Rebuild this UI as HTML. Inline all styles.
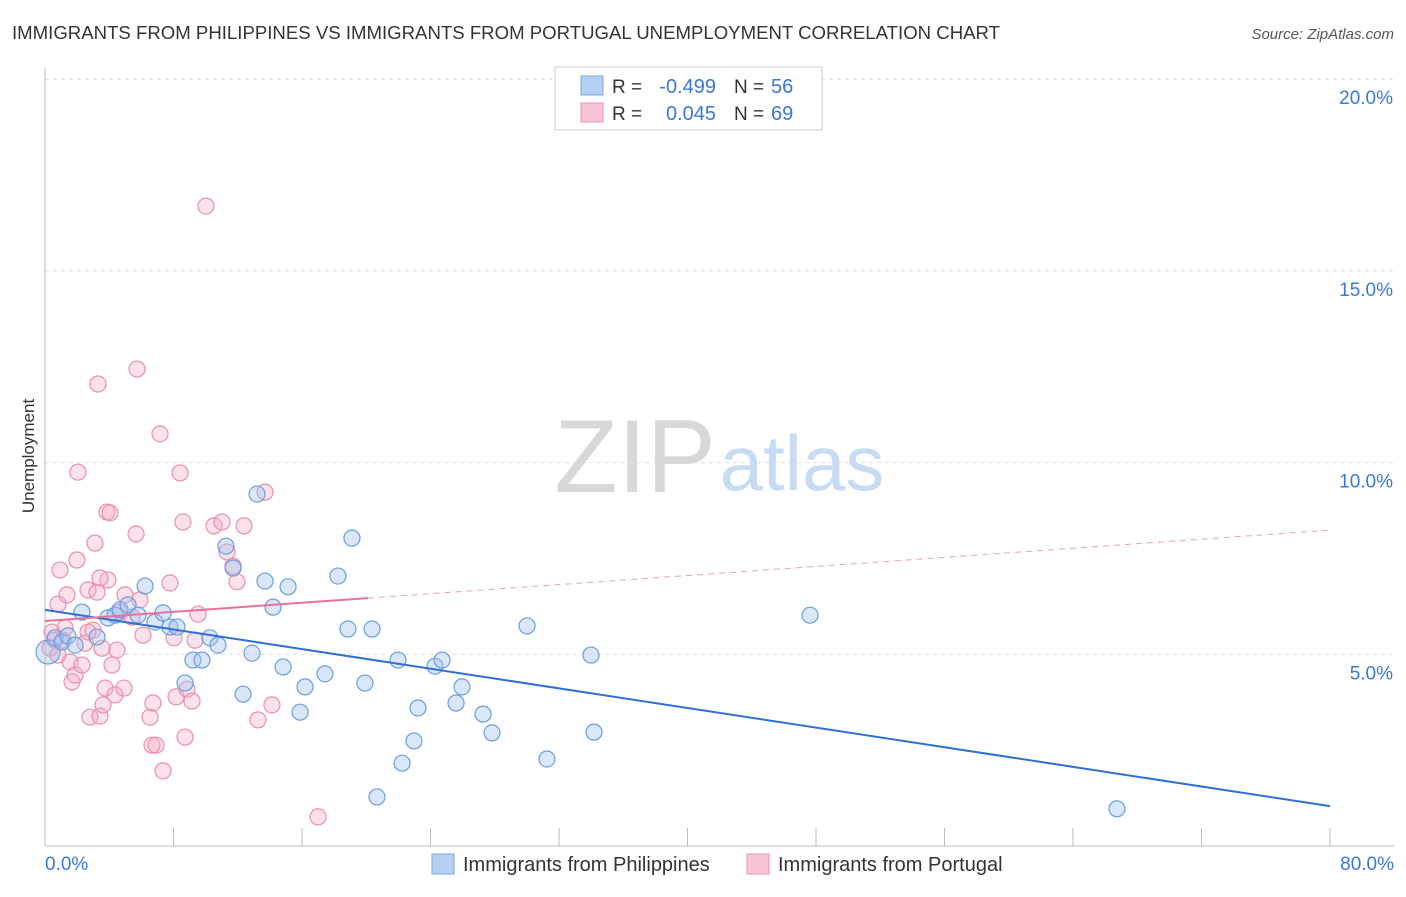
<!DOCTYPE html>
<html><head><meta charset="utf-8"><style>
body{margin:0;background:#fff;font-family:"Liberation Sans",sans-serif;}
svg text{font-family:"Liberation Sans",sans-serif;}
</style></head><body>
<svg id="chart" width="1406" height="892" viewBox="0 0 1406 892" xmlns="http://www.w3.org/2000/svg">
<text x="12" y="39" font-size="18" fill="#333" textLength="988" lengthAdjust="spacingAndGlyphs">IMMIGRANTS FROM PHILIPPINES VS IMMIGRANTS FROM PORTUGAL UNEMPLOYMENT CORRELATION CHART</text>
<text x="1394" y="39" font-size="15" fill="#555" text-anchor="end" font-style="italic">Source: ZipAtlas.com</text>
<text x="34" y="456" font-size="17" fill="#333" text-anchor="middle" transform="rotate(-90 34 456)">Unemployment</text>
<g>
<text x="635" y="492" font-size="104" fill="#d8d8d8" font-family="Liberation Serif,serif" text-anchor="middle">ZIP</text>
<text x="802" y="490" font-size="78" fill="#c7dbf3" text-anchor="middle">atlas</text>
</g>
<g id="grid"></g>
<g id="axes"></g>
<g id="pts"></g>
<g id="trends"></g>
<g>
<rect x="555" y="67" width="267" height="63" fill="#fff" stroke="#ccc"/>
<rect x="581" y="76" width="22" height="19" fill="#b5d0f3" stroke="#7aa6e0"/>
<rect x="581" y="103" width="22" height="19" fill="#f9c4d4" stroke="#ea94b0"/>
<text x="612" y="93" font-size="19" fill="#333">R =</text>
<text x="716" y="93" font-size="20" fill="#3a78d8" text-anchor="end">-0.499</text>
<text x="734" y="93" font-size="19" fill="#333">N =</text>
<text x="771" y="93" font-size="20" fill="#3a78d8">56</text>
<text x="612" y="120" font-size="19" fill="#333">R =</text>
<text x="716" y="120" font-size="20" fill="#3a78d8" text-anchor="end">0.045</text>
<text x="734" y="120" font-size="19" fill="#333">N =</text>
<text x="771" y="120" font-size="20" fill="#3a78d8">69</text>
</g>
<g>
<rect x="432" y="854" width="22" height="20" fill="#b5d0f3" stroke="#7aa6e0"/>
<text x="463" y="871" font-size="20" fill="#333">Immigrants from Philippines</text>
<rect x="747" y="854" width="22" height="20" fill="#f9c4d4" stroke="#ea94b0"/>
<text x="778" y="871" font-size="20" fill="#333">Immigrants from Portugal</text>
</g>
</svg>
<script>
const xTicks=[0,80];
const yTicks=[5,10,15,20];
const blueX=[0.19,0.62,1.06,1.43,1.87,2.30,3.24,3.92,4.36,4.67,5.17,5.79,6.23,6.85,7.35,7.78,8.22,8.72,9.21,9.77,10.27,10.77,11.27,11.71,12.33,12.89,13.20,13.70,14.20,14.82,15.13,15.88,16.19,17.43,18.24,19.11,18.86,19.92,20.36,20.67,21.98,22.23,22.97,23.22,24.28,24.72,25.59,25.96,27.27,27.83,30.01,31.25,33.99,34.18,47.63,66.74];
const blueY=[5.06,5.43,5.32,5.48,5.24,6.10,5.45,5.95,6.02,6.16,6.29,6.02,6.78,5.84,6.08,5.71,5.71,4.25,4.85,4.85,5.43,5.24,7.82,7.25,3.96,5.03,9.18,6.91,6.23,4.67,6.76,3.49,4.15,4.49,7.04,8.03,5.66,4.25,5.66,1.28,4.85,2.16,2.74,3.60,4.69,4.85,3.73,4.15,3.44,2.95,5.74,2.27,4.98,2.97,6.02,0.97];
const pinkX=[0.31,0.44,0.62,0.81,0.93,1.12,1.37,1.56,1.68,1.87,1.99,2.05,2.30,2.49,2.68,2.80,2.99,3.11,3.24,3.30,3.42,3.55,3.61,3.74,3.86,3.92,4.05,4.17,4.36,4.48,4.67,4.92,5.42,5.67,5.73,6.10,6.54,6.66,6.72,6.91,7.16,7.35,7.78,8.03,8.16,8.41,8.59,8.72,8.84,9.15,9.34,9.53,10.02,10.52,11.02,11.33,11.71,11.95,12.39,13.26,13.70,14.13,17.00,3.42,2.68,1.25,4.98,5.91,0.81];
const pinkY=[5.16,5.58,5.37,6.31,7.20,5.37,6.55,4.80,4.28,4.46,7.46,9.75,4.72,5.29,6.68,3.36,5.63,7.90,6.62,12.05,3.39,5.16,3.68,4.12,8.71,6.94,8.69,4.72,3.94,5.11,6.10,4.12,5.97,8.14,12.44,5.50,3.36,2.63,3.73,2.63,10.75,1.96,6.86,5.43,3.89,9.73,8.45,2.84,4.09,3.78,5.37,6.05,16.69,8.35,8.45,7.67,7.30,6.89,8.35,3.29,9.23,3.68,0.76,6.99,5.58,5.69,6.55,6.42,4.98];
const blueTrend=[6.16,1.04];
const pinkTrend=[5.87,8.24];
const pinkSolidEnd=20.1;
const NS="http://www.w3.org/2000/svg";
const X=v=>45+v/80*1285, Y=v=>846-v/5*191.7;
function mk(t,a,p){const e=document.createElementNS(NS,t);for(const k in a)e.setAttribute(k,a[k]);p.appendChild(e);return e;}
const grid=document.getElementById('grid'),axes=document.getElementById('axes');
yTicks.forEach(t=>{const l=mk('line',{x1:45,x2:1394,y1:Y(t),y2:Y(t),stroke:'#ddd','stroke-dasharray':'4 4'},grid);

const tx=mk('text',{x:1393,y:Y(t)+25,'font-size':19,fill:'#3a78d8','text-anchor':'end'},axes);tx.textContent=t.toFixed(1)+'%';
});
mk('line',{x1:45,x2:1394,y1:846,y2:846,stroke:'#bbb'},axes);
mk('line',{x1:45,x2:45,y1:68,y2:846,stroke:'#bbb'},axes);
for(let i=0;i<=10;i++){mk('line',{x1:X(i*8),x2:X(i*8),y1:846,y2:828,stroke:'#bbb'},axes);}
xTicks.forEach((t,i)=>{const tx=mk('text',{x:i?1394:45,y:870,'font-size':19,fill:'#3a78d8','text-anchor':i?'end':'start'},axes);tx.textContent=t.toFixed(1)+'%';
});
const pts=document.getElementById('pts');
pinkX.forEach((x,i)=>{const c=mk('circle',{cx:X(x),cy:Y(pinkY[i]),r:8,fill:'rgba(244,170,195,0.35)',stroke:'#e98fae','stroke-width':1.2},pts);
});
blueX.forEach((x,i)=>{const c=mk('circle',{cx:X(x),cy:Y(blueY[i]),r:i===0?12:8,fill:'rgba(160,195,240,0.4)',stroke:'#6a9de0','stroke-width':1.2},pts);
});
const tr=document.getElementById('trends');
const b=mk('line',{x1:X(0),y1:Y(blueTrend[0]),x2:X(80),y2:Y(blueTrend[1]),stroke:'#2f6fd6','stroke-width':2},tr);

const pv=x=>pinkTrend[0]+(pinkTrend[1]-pinkTrend[0])*x/80;
const p1=mk('line',{x1:X(0),y1:Y(pv(0)),x2:X(pinkSolidEnd),y2:Y(pv(pinkSolidEnd)),stroke:'#e8709a','stroke-width':2},tr);

const p2=mk('line',{x1:X(pinkSolidEnd),y1:Y(pv(pinkSolidEnd)),x2:X(80),y2:Y(pv(80)),stroke:'#e8a0b8','stroke-width':1,'stroke-dasharray':'6 5'},tr);

</script>
</body></html>
